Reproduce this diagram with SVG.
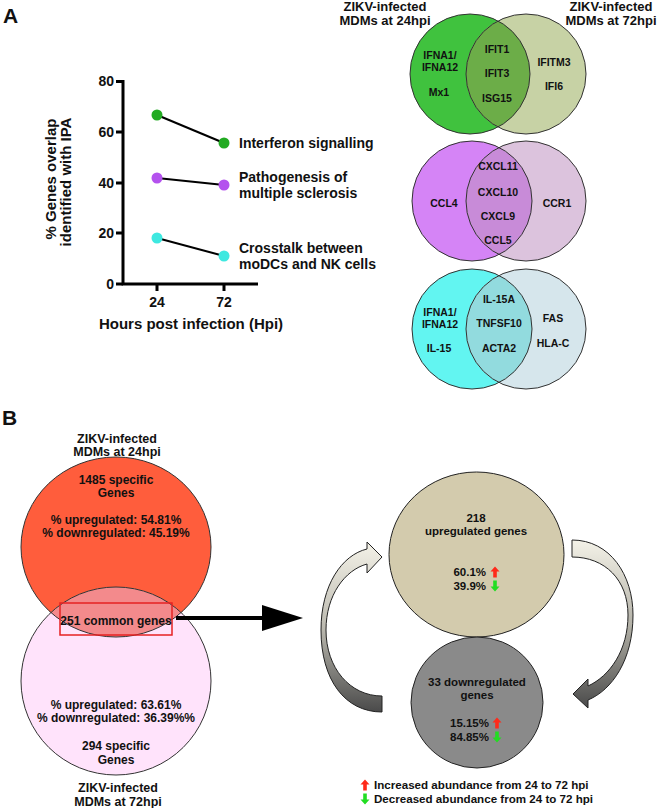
<svg xmlns="http://www.w3.org/2000/svg" width="660" height="808" viewBox="0 0 660 808">
<style>
text{font-family:"Liberation Sans",Arial,sans-serif;font-weight:bold;fill:#111}
.lbl{font-size:21px}
.ax{font-size:14px}
.ser{font-size:14px}
.vt{font-size:10.5px;text-anchor:middle}
.ttl{font-size:13px;text-anchor:middle}
.bt{font-size:12px;text-anchor:middle}
.bt2{font-size:12.5px;text-anchor:middle}
.rt{font-size:11.5px;text-anchor:middle}
.pc{font-size:11.5px;text-anchor:end}
.lg{font-size:11.6px}
.axis{stroke:#000;stroke-width:3;fill:none}
.dl{stroke:#000;stroke-width:2}
.vo{fill:none;stroke:#333;stroke-width:1}
.co{stroke:#222;stroke-width:1}
</style>
<defs>
<path id="up" d="M0,-5.5 L4.5,-0.5 L1.8,-0.5 L1.8,5.5 L-1.8,5.5 L-1.8,-0.5 L-4.5,-0.5 Z" fill="#ff2a1a"/>
<path id="dn" d="M0,5.5 L4.5,0.5 L1.8,0.5 L1.8,-5.5 L-1.8,-5.5 L-1.8,0.5 L-4.5,0.5 Z" fill="#22dd22"/>
<clipPath id="c1"><circle cx="470" cy="74" r="60"/></clipPath>
<clipPath id="c2"><circle cx="472" cy="201" r="60"/></clipPath>
<clipPath id="c3"><circle cx="472" cy="329" r="60"/></clipPath>
<clipPath id="cb"><ellipse cx="116" cy="547" rx="95" ry="90"/></clipPath>
<linearGradient id="gl" x1="0" y1="0" x2="0" y2="1">
<stop offset="0" stop-color="#f4f2e8"/><stop offset="0.5" stop-color="#bcbab0"/><stop offset="1" stop-color="#4a4a4a"/>
</linearGradient>
<linearGradient id="gr" x1="0" y1="0" x2="0" y2="1">
<stop offset="0" stop-color="#f4f2e8"/><stop offset="0.5" stop-color="#b4b2a8"/><stop offset="1" stop-color="#4a4a4a"/>
</linearGradient>
</defs>

<text class="lbl" x="3" y="23">A</text>
<text class="lbl" x="2" y="425">B</text>

<g id="chart">
<path class="axis" d="M123,80 V284 H258"/>
<path class="axis" d="M116,81.5 H123 M116,132 H123 M116,183 H123 M116,233 H123 M116,284 H123 M157,284 V291 M224,284 V291"/>
<text class="ax" x="114" y="86" text-anchor="end">80</text>
<text class="ax" x="114" y="137" text-anchor="end">60</text>
<text class="ax" x="114" y="188" text-anchor="end">40</text>
<text class="ax" x="114" y="238" text-anchor="end">20</text>
<text class="ax" x="114" y="289" text-anchor="end">0</text>
<text class="ax" x="157" y="307" text-anchor="middle">24</text>
<text class="ax" x="224" y="307" text-anchor="middle">72</text>
<text x="191" y="329" font-size="15" text-anchor="middle">Hours post infection (Hpi)</text>
<text font-size="15" text-anchor="middle" transform="translate(56,179) rotate(-90)">% Genes overlap</text>
<text font-size="15" text-anchor="middle" transform="translate(71,182) rotate(-90)">identified with  IPA</text>
<line class="dl" x1="157" y1="115" x2="224" y2="143"/>
<line class="dl" x1="157" y1="178" x2="224" y2="185"/>
<line class="dl" x1="157" y1="238" x2="224" y2="256"/>
<circle cx="157" cy="115" r="5.5" fill="#22aa22"/>
<circle cx="224" cy="143" r="5.5" fill="#22aa22"/>
<circle cx="157" cy="178" r="5.5" fill="#b452ee"/>
<circle cx="224" cy="185" r="5.5" fill="#b452ee"/>
<circle cx="157" cy="238" r="5.5" fill="#3ee8e0"/>
<circle cx="224" cy="256" r="5.5" fill="#3ee8e0"/>
<text class="ser" x="239" y="148">Interferon signalling</text>
<text class="ser" x="239" y="182">Pathogenesis of</text>
<text class="ser" x="239" y="198">multiple sclerosis</text>
<text class="ser" x="239" y="253">Crosstalk between</text>
<text class="ser" x="239" y="269">moDCs and NK cells</text>
</g>

<g id="venn-titles">
<text class="ttl" x="385" y="11">ZIKV-infected</text>
<text class="ttl" x="385" y="25">MDMs at 24hpi</text>
<text class="ttl" x="611" y="11">ZIKV-infected</text>
<text class="ttl" x="611" y="25">MDMs at 72hpi</text>
</g>

<g id="venn-interferon">
<circle cx="470" cy="74" r="60" fill="#40c23e"/>
<circle cx="526" cy="74" r="60" fill="#c7d2a5"/>
<circle cx="526" cy="74" r="60" fill="#6cad48" clip-path="url(#c1)"/>
<circle class="vo" cx="470" cy="74" r="60"/>
<circle class="vo" cx="526" cy="74" r="60"/>
<text class="vt" x="440" y="59">IFNA1/</text>
<text class="vt" x="440" y="71">IFNA12</text>
<text class="vt" x="439" y="96">Mx1</text>
<text class="vt" x="497" y="53">IFIT1</text>
<text class="vt" x="497" y="77">IFIT3</text>
<text class="vt" x="497" y="102">ISG15</text>
<text class="vt" x="554" y="66">IFITM3</text>
<text class="vt" x="554" y="90">IFI6</text>
</g>

<g id="venn-sclerosis">
<circle cx="472" cy="201" r="60" fill="#d584f6"/>
<circle cx="526" cy="201" r="60" fill="#dcc3dd"/>
<circle cx="526" cy="201" r="60" fill="#c88bd8" clip-path="url(#c2)"/>
<circle class="vo" cx="472" cy="201" r="60"/>
<circle class="vo" cx="526" cy="201" r="60"/>
<text class="vt" x="498" y="170">CXCL11</text>
<text class="vt" x="498" y="196">CXCL10</text>
<text class="vt" x="498" y="220">CXCL9</text>
<text class="vt" x="498" y="244">CCL5</text>
<text class="vt" x="444" y="207">CCL4</text>
<text class="vt" x="557" y="207">CCR1</text>
</g>

<g id="venn-crosstalk">
<circle cx="472" cy="329" r="60" fill="#62f5f1"/>
<circle cx="526" cy="329" r="60" fill="#d6e6ec"/>
<circle cx="526" cy="329" r="60" fill="#92dbde" clip-path="url(#c3)"/>
<circle class="vo" cx="472" cy="329" r="60"/>
<circle class="vo" cx="526" cy="329" r="60"/>
<text class="vt" x="499" y="303">IL-15A</text>
<text class="vt" x="499" y="327">TNFSF10</text>
<text class="vt" x="499" y="352">ACTA2</text>
<text class="vt" x="440" y="316">IFNA1/</text>
<text class="vt" x="440" y="327.5">IFNA12</text>
<text class="vt" x="439" y="352">IL-15</text>
<text class="vt" x="553" y="322">FAS</text>
<text class="vt" x="553" y="347">HLA-C</text>
</g>

<g id="venn-24-72">
<ellipse cx="116" cy="547" rx="95" ry="90" fill="#ff5d3c"/>
<ellipse cx="116" cy="681" rx="95" ry="94" fill="#ffe3fb"/>
<ellipse cx="116" cy="681" rx="95" ry="94" fill="#f38a8c" clip-path="url(#cb)"/>
<ellipse class="vo" cx="116" cy="547" rx="95" ry="90" stroke="#222"/>
<ellipse class="vo" cx="116" cy="681" rx="95" ry="94" stroke="#222"/>
<rect x="60" y="603" width="112" height="32" fill="none" stroke="#e62222" stroke-width="1.5"/>
<text class="bt2" x="117" y="442.5">ZIKV-infected</text>
<text class="bt2" x="117" y="456">MDMs at 24hpi</text>
<text class="bt" x="116" y="483.5">1485 specific</text>
<text class="bt" x="116" y="496.5">Genes</text>
<text class="bt" x="116" y="523.5">% upregulated: 54.81%</text>
<text class="bt" x="116" y="536.5">% downregulated: 45.19%</text>
<text class="bt" x="116" y="624.5">251 common genes</text>
<text class="bt" x="116" y="708.5">% upregulated: 63.61%</text>
<text class="bt" x="116" y="721.5">% downregulated: 36.39%%</text>
<text class="bt" x="116" y="749.5">294 specific</text>
<text class="bt" x="116" y="763.5">Genes</text>
<text class="bt2" x="118" y="791.5">ZIKV-infected</text>
<text class="bt2" x="118" y="805.5">MDMs at 72hpi</text>
</g>

<g id="upregulated">
<ellipse cx="476.5" cy="554.5" rx="87.5" ry="82.5" fill="#d3cbad" stroke="#222" stroke-width="1"/>
<text class="rt" x="476" y="521.5">218</text>
<text class="rt" x="476" y="534.5">upregulated genes</text>
<text class="pc" x="486" y="576">60.1%</text>
<text class="pc" x="486" y="590">39.9%</text>
<use href="#up" x="495" y="572"/>
<use href="#dn" x="495" y="586"/>
</g>

<g id="downregulated">
<ellipse cx="477" cy="702.5" rx="66" ry="65.5" fill="#8a8a8a" stroke="#222" stroke-width="1"/>
<text class="rt" x="477" y="686">33 downregulated</text>
<text class="rt" x="477" y="699">genes</text>
<text class="pc" x="489" y="727">15.15%</text>
<text class="pc" x="489" y="741">84.85%</text>
<use href="#up" x="497" y="723"/>
<use href="#dn" x="497" y="737"/>
</g>

<g id="legend">
<use href="#up" x="365" y="785"/>
<use href="#dn" x="365" y="799"/>
<text class="lg" x="374" y="789">Increased abundance from 24 to 72 hpi</text>
<text class="lg" x="374" y="803">Decreased abundance from 24 to 72 hpi</text>
</g>

<g id="connectors">
<line x1="176" y1="618" x2="264" y2="618" stroke="#000" stroke-width="4"/>
<polygon points="262,605 303,618 262,631" fill="#000"/>
<path class="co" fill="url(#gl)" d="M382,712 C345,712 321,680 321,630 C321,585 342,555 367,549 L367,542 L382,557 L367,573 L367,564 C345,570 326,595 326,630 C326,668 350,696 382,696 Z"/>
<path class="co" fill="url(#gr)" d="M572,540 C610,540 633,575 633,615 C633,660 612,690 588,700 L588,708 L573,694 L588,679 L588,686 C610,676 628,650 628,615 C628,580 605,557 572,557 Z"/>
</g>
</svg>
